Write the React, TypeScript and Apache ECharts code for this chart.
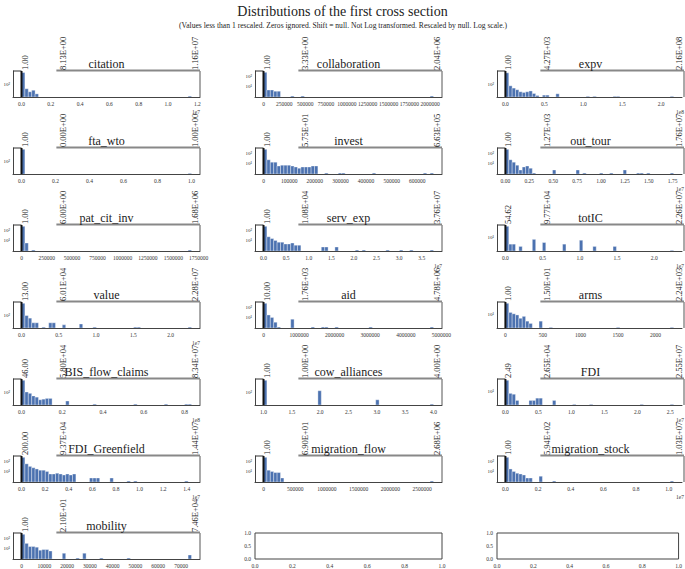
import React, { useEffect, useRef } from 'react';
import * as echarts from 'echarts';

const FONT = '"Liberation Serif", "Times New Roman", serif';
const BAR_COLOR = '#4c72b0';

const TITLE = 'Distributions of the first cross section';
const SUBTITLE = '(Values less than 1 rescaled. Zeros ignored. Shift = null. Not Log transformed. Rescaled by null. Log scale.)';

const VARIABLES = ['citation', 'collaboration', 'expv', 'fta_wto', 'invest', 'out_tour', 'pat_cit_inv', 'serv_exp', 'totIC', 'value', 'aid', 'arms', 'BIS_flow_claims', 'cow_alliances', 'FDI', 'FDI_Greenfield', 'migration_flow', 'migration_stock', 'mobility'];
const MIN_LABELS = ['1.00', '1.00', '1.00', '1.00', '1.00', '1.00', '1.00', '1.00', '54.62', '13.00', '10.00', '1.00', '46.00', '1.00', '2.49', '200.00', '1.00', '1.00', '1.00'];
const MID_LABELS = ['8.13E+00', '3.33E+00', '4.27E+03', '0.00E+00', '5.75E+01', '1.27E+03', '6.00E+00', '1.08E+04', '9.77E+04', '6.01E+04', '1.76E+03', '1.50E+01', '5.80E+04', '1.00E+00', '2.65E+04', '9.37E+04', '6.90E+01', '5.94E+02', '2.10E+01'];
const MAX_LABELS = ['1.16E+07', '2.04E+06', '2.16E+08', '1.00E+00', '6.63E+05', '1.76E+07', '1.68E+06', '3.76E+07', '2.26E+07', '2.28E+07', '4.78E+06', '2.24E+03', '8.34E+07', '4.00E+00', '2.55E+07', '1.44E+07', '2.68E+06', '1.03E+07', '7.46E+04'];

// data range in axis (display) units
const X_MIN = [0, 0, 0, 0, 0, 0, 0, 0, 0, 0, 0, 0, 0, 1, 0, 0, 0, 0, 0];
const X_MAX = [1.16, 2040000, 2.16, 1.0, 663000, 1.76, 1680000, 3.76, 2.26, 2.28, 4780000, 2240, 0.834, 4.0, 2.55, 1.44, 2680000, 1.03, 74600];
const X_OFFSET = ['1e7', '', '1e8', '', '', '1e7', '', '1e7', '1e7', '1e7', '', '', '1e8', '', '1e7', '1e7', '', '1e7', ''];
const X_STEP = [0.2, 250000, 0.5, 0.2, 100000, 0.25, 250000, 0.5, 0.5, 0.5, 1000000, 500, 0.2, 0.5, 0.5, 0.2, 500000, 0.2, 10000];
const X_DECIMALS = [1, 0, 1, 1, 0, 2, 0, 1, 1, 1, 0, 0, 1, 1, 1, 1, 0, 1, 0];
const Y_LOG_LO = [1.05, -0.1, 1.1, 1.1, -0.1, -0.1, -0.1, -0.1, -0.05, 1.05, -0.1, -0.05, 1.05, 1.05, -0.05, -0.1, -0.1, -0.1, -0.1];
const Y_LOG_HI = [2.95, 2.5, 2.9, 2.9, 2.5, 2.5, 2.5, 2.5, 1.95, 2.95, 2.5, 1.95, 2.95, 2.95, 1.95, 2.5, 2.5, 2.5, 2.5];
const BIN_COUNT = 50;

// histograms: [bin index, count]
const H_citation = [[0, 686], [1, 45], [2, 27], [3, 35], [4, 19], [49, 13]];
const H_collaboration = [[0, 234], [1, 4], [2, 4], [3, 3], [4, 3], [8, 1], [11, 1], [49, 1]];
const H_expv = [[0, 594], [1, 75], [2, 52], [3, 40], [4, 29], [5, 26], [6, 29], [7, 33], [8, 22], [9, 16], [11, 17], [12, 17], [15, 21], [24, 14], [26, 14], [32, 14], [33, 14], [49, 14]];
const H_fta_wto = [[0, 646], [49, 14]];
const H_invest = [[0, 234], [1, 21], [2, 12], [3, 12], [4, 5], [5, 6], [6, 6], [7, 6], [8, 5], [9, 4], [10, 3], [11, 4], [12, 4], [13, 4], [14, 5], [15, 5], [18, 1], [22, 1], [23, 1], [32, 1], [47, 1], [49, 1]];
const H_out_tour = [[0, 234], [1, 21], [2, 12], [3, 6], [4, 2], [5, 4], [6, 5], [7, 3], [8, 1], [14, 2], [21, 2], [23, 1], [28, 1], [31, 1], [35, 2], [39, 1], [40, 1], [42, 1], [49, 1]];
const H_pat_cit_inv = [[0, 234], [1, 5], [3, 1], [49, 1]];
const H_serv_exp = [[0, 234], [1, 21], [2, 14], [3, 9], [4, 6], [5, 6], [6, 4], [7, 4], [8, 5], [9, 3], [10, 3], [17, 2], [18, 2], [21, 2], [27, 1], [29, 1], [36, 1], [40, 1], [43, 1], [49, 1]];
const H_totIC = [[0, 71], [1, 3], [2, 3], [4, 2], [8, 7], [11, 4], [17, 3], [22, 6], [26, 2], [32, 2], [49, 1]];
const H_value = [[0, 716], [1, 91], [2, 59], [3, 27], [4, 27], [6, 13], [8, 27], [9, 27], [12, 19], [17, 22], [21, 13], [33, 13], [34, 13], [49, 13]];
const H_aid = [[0, 234], [1, 16], [2, 9], [3, 3], [4, 1], [8, 6], [14, 1], [17, 1], [18, 1], [21, 1], [31, 1], [49, 1]];
const H_arms = [[0, 71], [1, 14], [2, 11], [3, 9], [4, 5], [5, 7], [6, 3], [7, 2], [10, 3], [13, 1], [33, 1], [49, 1]];
const H_BIS_flow_claims = [[0, 716], [1, 100], [2, 80], [3, 52], [4, 42], [5, 27], [6, 30], [7, 34], [8, 34], [13, 22], [21, 13], [33, 13], [42, 13], [48, 13], [49, 13]];
const H_cow_alliances = [[0, 716], [16, 124], [33, 27], [49, 13]];
const H_FDI = [[0, 71], [1, 7], [2, 6], [3, 2], [7, 2], [8, 2], [9, 3], [10, 3], [14, 2], [20, 1], [25, 1], [40, 1], [49, 1]];
const H_FDI_Greenfield = [[0, 234], [1, 52], [2, 29], [3, 21], [4, 16], [5, 12], [6, 12], [7, 9], [8, 5], [9, 5], [10, 6], [11, 5], [12, 4], [13, 5], [14, 4], [15, 5], [20, 2], [21, 2], [22, 2], [26, 2], [31, 1], [33, 1], [48, 1]];
const H_migration_flow = [[0, 234], [1, 12], [2, 9], [3, 7], [4, 7], [5, 2], [49, 1]];
const H_migration_stock = [[0, 234], [1, 16], [2, 9], [3, 6], [4, 5], [5, 4], [6, 2], [7, 2], [10, 3], [14, 1], [49, 1]];
const H_mobility = [[0, 234], [1, 29], [2, 14], [3, 14], [4, 12], [5, 6], [6, 7], [7, 7], [8, 5], [12, 3], [16, 1], [18, 3], [23, 1], [31, 1], [49, 2]];

const HISTS = [H_citation, H_collaboration, H_expv, H_fta_wto, H_invest, H_out_tour, H_pat_cit_inv, H_serv_exp, H_totIC, H_value, H_aid, H_arms, H_BIS_flow_claims, H_cow_alliances, H_FDI, H_FDI_Greenfield, H_migration_flow, H_migration_stock, H_mobility];

// layout
const COL_LEFTS = [13, 255, 497];
const ROW_TOPS = [71, 148, 225, 302, 379, 456, 533];
const PANEL_W = 187;
const PANEL_H = 26;

const SUP: Record<string, string> = { '0': '⁰', '1': '¹', '2': '²', '3': '³', '4': '⁴', '5': '⁵', '-': '⁻' };

const tickLabel = { fontSize: 5.5, color: '#333', fontFamily: FONT };

function buildOption() {
  const grid: any[] = [];
  const xAxis: any[] = [];
  const yAxis: any[] = [];
  const series: any[] = [];
  for (let i = 0; i < 21; i++) {
    const row = Math.floor(i / 3);
    const col = i % 3;
    const empty = i >= VARIABLES.length;
    grid.push({
      left: COL_LEFTS[col], top: ROW_TOPS[row], width: PANEL_W, height: PANEL_H,
      show: empty, borderColor: '#444', borderWidth: 1, backgroundColor: 'transparent',
    });
    if (empty) {
      xAxis.push({
        type: 'value', gridIndex: i, min: 0, max: 1, interval: 0.2,
        axisLine: { show: false }, axisTick: { show: false }, splitLine: { show: false },
        axisLabel: { ...tickLabel, margin: 4, formatter: (v: number) => v.toFixed(1) },
      });
      yAxis.push({
        type: 'value', gridIndex: i, min: 0, max: 1, interval: 0.5,
        axisLine: { show: false }, axisTick: { show: false }, splitLine: { show: false },
        axisLabel: { ...tickLabel, margin: 4, formatter: (v: number) => v.toFixed(1) },
      });
      continue;
    }
    const lo = X_MIN[i];
    const hi = X_MAX[i];
    const span = hi - lo;
    const step = X_STEP[i];
    const dec = X_DECIMALS[i];
    xAxis.push({
      type: 'value', gridIndex: i,
      min: lo - 0.05 * span, max: hi + 0.05 * span,
      minInterval: step, maxInterval: step,
      axisLine: { show: true, onZero: false, lineStyle: { color: '#444', width: 1 } },
      axisTick: { show: false }, splitLine: { show: false },
      axisLabel: {
        ...tickLabel, margin: 4,
        formatter: (v: number) => {
          const k = v / step;
          if (Math.abs(k - Math.round(k)) > 1e-6) return '';
          return (Math.round(k) * step).toFixed(dec);
        },
      },
    });
    yAxis.push({
      type: 'log', logBase: 10, gridIndex: i,
      min: Math.pow(10, Y_LOG_LO[i]), max: Math.pow(10, Y_LOG_HI[i]),
      axisLine: { show: true, onZero: false, lineStyle: { color: '#444', width: 1 } },
      axisTick: { show: false }, splitLine: { show: false },
      axisLabel: {
        fontSize: 5, color: '#333', fontFamily: FONT, margin: 3,
        formatter: (v: number) => {
          const e = Math.log10(v);
          const r = Math.round(e);
          if (Math.abs(e - r) > 1e-6 || r <= 0) return '';
          return '10' + String(r).split('').map((c) => SUP[c] || c).join('');
        },
      },
    });
    const w = span / BIN_COUNT;
    series.push({
      type: 'custom', xAxisIndex: i, yAxisIndex: i, silent: true, clip: true,
      encode: { x: [0, 1], y: 2 },
      data: HISTS[i].map(([b, c]) => [lo + b * w, lo + (b + 1) * w, c]),
      renderItem: (params: any, api: any) => {
        const x0 = api.value(0);
        const x1 = api.value(1);
        const c = api.value(2);
        const p0 = api.coord([x0, c]);
        const p1 = api.coord([x1, c]);
        const cs = params.coordSys;
        const bottom = cs.y + cs.height;
        const top = Math.max(p0[1], cs.y);
        return {
          type: 'rect',
          shape: { x: p0[0], y: top, width: p1[0] - p0[0], height: Math.max(0, bottom - top) },
          style: { fill: BAR_COLOR, stroke: 'rgba(255,255,255,0.7)', lineWidth: 0.5 },
        };
      },
    });
  }
  return { animation: false, backgroundColor: '#fff', grid, xAxis, yAxis, series };
}

export default function App() {
  const ref = useRef<HTMLDivElement>(null);
  useEffect(() => {
    document.body.style.margin = '0';
    if (!ref.current) return;
    const chart = echarts.init(ref.current, undefined, { renderer: 'svg' });
    chart.setOption(buildOption() as any);

    const elements: any[] = [
      { type: 'text', x: 342.5, y: 11, z: 100, style: { text: TITLE, fontSize: 14, fontFamily: FONT, fill: '#222', align: 'center', verticalAlign: 'middle' } },
      { type: 'text', x: 343, y: 25, z: 100, style: { text: SUBTITLE, fontSize: 7.6, fontFamily: FONT, fill: '#222', align: 'center', verticalAlign: 'middle' } },
    ];
    for (let i = 0; i < VARIABLES.length; i++) {
      const row = Math.floor(i / 3);
      const col = i % 3;
      const L = COL_LEFTS[col];
      const T = ROW_TOPS[row];
      const R = L + PANEL_W;
      const B = T + PANEL_H;
      const mx = chart.convertToPixel({ xAxisIndex: i } as any, X_MIN[i]) as unknown as number;
      const qx = L + 0.265 * PANEL_W;
      const lineStyle = (stroke: string, lineWidth: number) => ({ stroke, lineWidth });
      elements.push(
        { type: 'line', z: 100, shape: { x1: R, y1: T, x2: R, y2: B }, style: lineStyle('#555', 1) },
        { type: 'line', z: 100, shape: { x1: L, y1: T, x2: mx, y2: T }, style: lineStyle('#333', 1) },
        { type: 'line', z: 100, shape: { x1: L + 0.232 * PANEL_W, y1: T - 0.5, x2: R, y2: T - 0.5 }, style: lineStyle('#888', 2.2) },
        { type: 'line', z: 101, shape: { x1: mx, y1: T, x2: mx, y2: B }, style: lineStyle('#111', 2) },
        { type: 'text', z: 102, x: mx + 3, y: T - 1, rotation: Math.PI / 2, style: { text: MIN_LABELS[i], fontSize: 8.5, fontFamily: FONT, fill: '#222', align: 'left', verticalAlign: 'middle' } },
        { type: 'text', z: 102, x: qx, y: T - 1, rotation: Math.PI / 2, style: { text: MID_LABELS[i], fontSize: 8.5, fontFamily: FONT, fill: '#222', align: 'left', verticalAlign: 'middle' } },
        { type: 'text', z: 102, x: R - 5, y: T - 1, rotation: Math.PI / 2, style: { text: MAX_LABELS[i], fontSize: 8.5, fontFamily: FONT, fill: '#222', align: 'left', verticalAlign: 'middle' } },
        { type: 'text', z: 103, x: L + PANEL_W / 2, y: T - 7, style: { text: VARIABLES[i], fontSize: 12, fontFamily: FONT, fill: '#222', align: 'center', verticalAlign: 'middle' } },
      );
      if (X_OFFSET[i]) {
        elements.push({ type: 'text', z: 100, x: R, y: B + 15, style: { text: X_OFFSET[i], fontSize: 5.5, fontFamily: FONT, fill: '#333', align: 'right', verticalAlign: 'middle' } });
      }
    }
    chart.setOption({ graphic: { elements } } as any);
    return () => chart.dispose();
  }, []);
  return <div ref={ref} style={{ width: 685, height: 569 }} />;
}
